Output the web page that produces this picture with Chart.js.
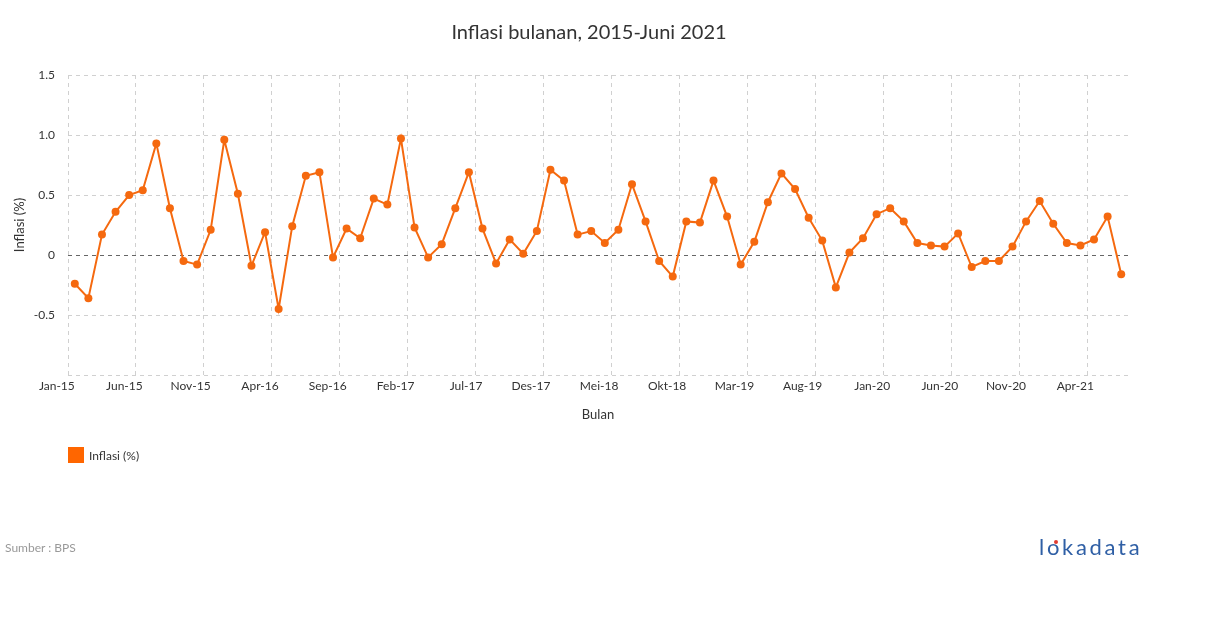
<!DOCTYPE html>
<html>
<head>
<meta charset="utf-8">
<script src="https://cdn.jsdelivr.net/npm/chart.js@4"></script>
<style>
    body { margin: 0; background: #fff; font-family: Lato, sans-serif; }
    #wrap { position: relative; width: 1210px; height: 628px; }
    #legend { position: absolute; left: 68px; top: 447px; display: flex; align-items: center; font-size: 12px; color: #333; }
    #legend span.box { width: 16px; height: 16px; background: #ff6600; margin-right: 5px; }
    #source { position: absolute; left: 5px; top: 540px; font-size: 12px; color: #999; }
    #logo { position: absolute; left: 1039px; top: 533px; font-size: 22px; color: #2f5fa5; letter-spacing: 2.7px; }
    #logo b { font-weight: normal; color: #2f5fa5; position: relative; }
    #logo b::after { content: ''; position: absolute; left: 7px; top: 7px; width: 4px; height: 4px; background: #e03c31; border-radius: 50%; }
</style>
</head>
<body>
<div id="wrap">
    <canvas id="inflasi-chart" width="1210" height="628"></canvas>
    <div id="legend"><span class="box"></span>Inflasi (%)</div>
    <div id="source">Sumber : BPS</div>
    <div id="logo">l<b>o</b>kadata</div>
</div>
<script>
const chartTitle = 'Inflasi bulanan, 2015-Juni 2021';
const months = ['Jan', 'Feb', 'Mar', 'Apr', 'Mei', 'Jun', 'Jul', 'Aug', 'Sep', 'Okt', 'Nov', 'Des'];
const years = ['15', '16', '17', '18', '19', '20', '21'];

// inflasi bulanan (%), Jan 2015 - Jun 2021
const inflasi2015 = [-0.24, -0.36, 0.17, 0.36, 0.50, 0.54, 0.93, 0.39, -0.05, -0.08, 0.21, 0.96];
const inflasi2016 = [0.51, -0.09, 0.19, -0.45, 0.24, 0.66, 0.69, -0.02, 0.22, 0.14, 0.47, 0.42];
const inflasi2017 = [0.97, 0.23, -0.02, 0.09, 0.39, 0.69, 0.22, -0.07, 0.13, 0.01, 0.20, 0.71];
const inflasi2018 = [0.62, 0.17, 0.20, 0.10, 0.21, 0.59, 0.28, -0.05, -0.18, 0.28, 0.27, 0.62];
const inflasi2019 = [0.32, -0.08, 0.11, 0.44, 0.68, 0.55, 0.31, 0.12, -0.27, 0.02, 0.14, 0.34];
const inflasi2020 = [0.39, 0.28, 0.10, 0.08, 0.07, 0.18, -0.10, -0.05, -0.05, 0.07, 0.28, 0.45];
const inflasi2021 = [0.26, 0.10, 0.08, 0.13, 0.32, -0.16];

const yTicks = [-1, -0.5, 0, 0.5, 1, 1.5];

const values = [].concat(inflasi2015, inflasi2016, inflasi2017, inflasi2018, inflasi2019, inflasi2020, inflasi2021);
const labels = [];
years.forEach(y => months.forEach(m => {
    if (labels.length < values.length) labels.push(`${m}-${y}`);
}));

const orange = '#f5690f';
const gridGrey = '#d0d0d0';

// title drawn by hand so it can sit where the original has it
const titlePlugin = {
    id: 'titleText',
    afterDraw(chart) {
        const ctx = chart.ctx;
        ctx.save();
        ctx.font = '20px Lato';
        ctx.fillStyle = '#333';
        ctx.textAlign = 'center';
        ctx.textBaseline = 'middle';
        ctx.fillText(chartTitle, 589, 33);
        ctx.restore();
    }
};

new Chart(document.getElementById('inflasi-chart'), {
    type: 'line',
    data: {
        labels: labels,
        datasets: [{
            label: 'Inflasi (%)',
            data: values,
            borderColor: orange,
            backgroundColor: orange,
            borderWidth: 2,
            pointRadius: 4,
            pointHoverRadius: 4,
            pointBorderWidth: 0,
            tension: 0
        }]
    },
    options: {
        responsive: false,
        animation: false,
        layout: { padding: { left: 0, right: 82, top: 75, bottom: 205 } },
        plugins: {
            legend: { display: false },
            tooltip: { enabled: false },
            title: { display: false }
        },
        scales: {
            x: {
                type: 'category',
                offset: true,
                grid: {
                    offset: true,
                    color: ctx => ctx.index % 5 === 0 ? gridGrey : 'rgba(0,0,0,0)',
                    drawTicks: false
                },
                border: { display: false, dash: [4, 4] },
                ticks: {
                    autoSkip: false,
                    maxRotation: 0,
                    align: 'end',
                    padding: 4,
                    color: '#333',
                    font: { family: 'Lato', size: 12 },
                    callback: function(value, index) {
                        return index % 5 === 0 ? labels[index] : '';
                    }
                },
                title: {
                    display: true,
                    text: 'Bulan',
                    color: '#333',
                    font: { family: 'Lato', size: 13 },
                    padding: { top: 0, bottom: 0 }
                },
                afterFit: function(scale) { scale.height = 48; }
            },
            y: {
                min: yTicks[0],
                max: yTicks[yTicks.length - 1],
                afterBuildTicks: function(scale) {
                    scale.ticks = yTicks.map(v => ({ value: v }));
                },
                grid: {
                    color: ctx => ctx.tick && ctx.tick.value === 0 ? '#666' : gridGrey,
                    drawTicks: false
                },
                border: { display: false, dash: [4, 4] },
                ticks: {
                    padding: 13,
                    color: '#333',
                    font: { family: 'Lato', size: 12 },
                    callback: function(value) {
                        if (value === -1) return '';
                        return value === 0 ? '0' : value.toFixed(1);
                    }
                },
                title: {
                    display: true,
                    text: 'Inflasi (%)',
                    color: '#333',
                    font: { family: 'Lato', size: 13 },
                    padding: { top: 12, bottom: 0 }
                },
                afterFit: function(scale) { scale.width = 68; }
            }
        }
    },
    plugins: [titlePlugin]
});
</script>
</body>
</html>
